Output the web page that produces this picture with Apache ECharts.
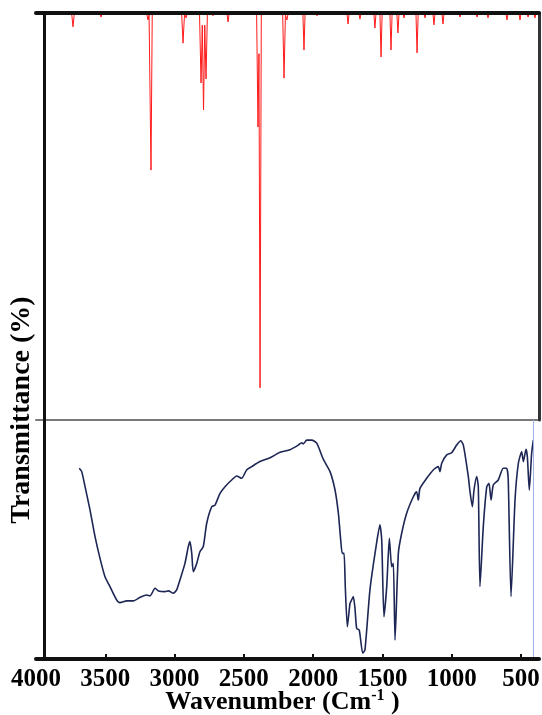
<!DOCTYPE html>
<html><head><meta charset="utf-8">
<script src="https://cdn.jsdelivr.net/npm/echarts@6/dist/echarts.min.js"></script>
<style>html,body{margin:0;padding:0;background:#fff}#c{width:542px;height:715px}</style>
</head><body><div id="c"></div>
<script>
// Tick labels along the wavenumber axis
const xTickLabels = [4000, 3500, 3000, 2500, 2000, 1500, 1000, 500];
const xTickMarks = [3500, 3000, 2500, 2000, 1500, 1000, 500];

// Calculated (theoretical) spectrum, top panel: [wavenumber, transmittance %]
const calcSpectrum = [
  [4000,100],[3743,100],[3733,96.6],[3723,100],[3669,100],[3661,99.5],[3653,100],[3539,100],[3531,99.0],[3523,100],
  [3202,100],[3192,98.3],[3184,99.5],[3170,61.4],[3161,100],[2949,100],[2939,92.6],[2928,99.8],[2917,98.8],[2908,100],
  [2820,100],[2809,82.8],[2800,97],[2791,76.2],[2782,97],[2773,83.8],[2763,100],[2731,100],[2723,99.3],[2715,100],
  [2622,100],[2614,97.8],[2606,100],[2408,100],[2398,72],[2391,90],[2383,7.9],[2374,100],[2220,100],[2210,84],
  [2200,99.5],[2189,98.3],[2180,100],[2074,100],[2066,90.9],[2058,100],[1980,100],[1972,99.3],[1964,100],[1886,100],
  [1878,99.5],[1870,100],[1756,100],[1748,97.3],[1740,100],[1670,100],[1662,98.5],[1654,100],[1562,100],[1554,96.3],
  [1546,100],[1518,100],[1510,89.2],[1502,100],[1446,100],[1438,90.9],[1430,100],[1396,100],[1388,95.1],[1380,100],
  [1352,100],[1344,98.8],[1336,100],[1258,100],[1250,90.2],[1242,100],[1201,100],[1193,98.8],[1185,100],[1136,100],
  [1128,97.1],[1120,100],[1071,100],[1063,97.3],[1055,100],[948,100],[940,99],[932,100],[825,100],[817,99],[809,100],
  [746,100],[738,98.8],[730,100],[609,100],[601,98.3],[593,100],[515,100],[507,98.3],[499,100],[457,100],[449,99],
  [441,100],[407,100],[399,98.8],[391,100],[370,100]
];

// Experimental spectrum, bottom panel: wavenumbers and transmittance %
const expWavenumber = [3688,3670,3646,3610,3574,3538,3502,3466,3437,3413,3394,3345,3298,3249,3201,3177,3141,3117,3069,3045,
  3009,2985,2961,2925,2901,2889,2876,2865,2840,2817,2793,2768,2732,2708,2672,2636,2588,2552,2516,2480,2443,2384,2311,2239,
  2167,2107,2083,2071,2046,2010,1974,1927,1878,1842,1818,1801,1790,1777,1768,1753,1734,1722,1710,1698,1686,1667,1642,1626,
  1590,1546,1518,1505,1489,1469,1450,1433,1421,1409,1385,1361,1325,1277,1253,1241,1229,1181,1133,1097,1085,1072,1036,1000,
  964,935,916,880,868,851,839,820,808,796,772,747,731,716,700,664,628,603,592,572,543,519,495,483,464,454,440,423,411];
const expTransmittance = [79.8,78.4,72.1,62.3,51.2,42.1,34.4,30.3,26.8,24.3,23.6,24.3,24.3,25.8,26.8,26.4,29.6,28.5,28.2,28.5,
  27.5,28.9,33.1,40.0,47.0,49.1,44.2,36.5,40.0,44.9,47.0,56.8,63.7,64.4,69.3,72.1,74.9,76.6,75.6,79.1,80.5,82.6,84.2,86.5,
  87.6,89.5,90.5,90.0,91.6,91.6,90.3,83.6,78.4,70.7,61.0,49.8,44.2,44.2,30.3,13.5,23.3,24.7,26.1,21.2,12.8,12.1,2.4,3.8,
  28.9,47.0,56.1,49.8,17.7,30.3,50.5,38.6,40.0,7.9,44.2,52.6,61.0,67.9,70.0,66.5,71.4,75.6,79.1,80.5,78.4,81.9,85.4,86.3,
  89.5,91.3,89.5,76.3,70.0,63.7,70.7,76.3,72.1,30.3,55.4,72.1,73.5,66.5,72.8,74.9,79.8,79.8,74.9,26.1,66.5,81.9,86.7,82.6,
  87.7,84.6,70.7,86.1,91.6];

const expSpectrum = expWavenumber.map((w, i) => [w, expTransmittance[i]]);

const chart = echarts.init(document.getElementById('c'), null, {renderer: 'canvas'});
const serif = 'Liberation Serif';
const hidden = {show: false};
const xBase = {type: 'value', inverse: true, min: 370, max: 4000, splitLine: hidden, axisTick: hidden, axisLabel: hidden};
const yBase = {type: 'value', min: 0, max: 100, splitLine: hidden, axisTick: hidden, axisLabel: hidden};

chart.setOption({
  animation: false,
  backgroundColor: '#fff',
  grid: [
    {left: 36, right: 3, top: 13, height: 407, outerBoundsMode: 'none', containLabel: false},
    {left: 36, right: 3, top: 420, height: 239, outerBoundsMode: 'none', containLabel: false}
  ],
  xAxis: [
    Object.assign({}, xBase, {gridIndex: 0, position: 'top', z: 5,
      axisLine: {show: true, onZero: false, lineStyle: {color: '#111', width: 4}}}),
    Object.assign({}, xBase, {gridIndex: 1, position: 'bottom', z: 5,
      axisLine: {show: true, onZero: false, lineStyle: {color: '#111', width: 4}},
      axisTick: {show: true, inside: true, length: 5, lineStyle: {color: '#111', width: 2}, customValues: xTickMarks},
      axisLabel: {show: true, customValues: xTickLabels, margin: 8, color: '#000',
        fontFamily: serif, fontWeight: 'bold', fontSize: 25, formatter: v => String(v)},
      name: '{n|Wavenumber (Cm}{s|-1}{n| )}', nameLocation: 'middle', nameGap: 29, nameMoveOverlap: false,
      nameTextStyle: {padding: [0, 10, 0, 0], rich: {
        n: {fontFamily: serif, fontWeight: 'bold', fontSize: 26, color: '#000'},
        s: {fontFamily: serif, fontWeight: 'bold', fontSize: 16, color: '#000', padding: [0, 0, 12, 0]}
      }}}),
    Object.assign({}, xBase, {gridIndex: 1, position: 'top', z: 4,
      axisLine: {show: true, onZero: false, lineStyle: {color: '#7a7a7a', width: 2}}})
  ],
  yAxis: [
    Object.assign({}, yBase, {gridIndex: 0, position: 'left', offset: -8, z: 5,
      axisLine: {show: true, onZero: false, lineStyle: {color: '#111', width: 3}}}),
    Object.assign({}, yBase, {gridIndex: 1, position: 'left', offset: -8, z: 5,
      axisLine: {show: true, onZero: false, lineStyle: {color: '#111', width: 3}}}),
    Object.assign({}, yBase, {gridIndex: 0, position: 'right', z: 5,
      axisLine: {show: true, onZero: false, lineStyle: {color: '#333', width: 3}}})
  ],
  series: [
    {type: 'line', xAxisIndex: 0, yAxisIndex: 0, data: calcSpectrum, showSymbol: false, symbol: 'none',
      lineStyle: {color: '#ff1a1a', width: 1}, z: 2},
    {type: 'line', xAxisIndex: 1, yAxisIndex: 1, data: expSpectrum, showSymbol: false, symbol: 'none', smooth: 0.2,
      lineStyle: {color: '#1d2654', width: 1.6}, z: 2,
      markLine: {silent: true, symbol: 'none', label: {show: false},
        lineStyle: {color: '#9fb2e6', width: 1, type: 'solid'}, data: [{xAxis: 411}]}}
  ],
  graphic: [{
    type: 'text', x: 22, y: 410, rotation: Math.PI / 2,
    style: {text: 'Transmittance (%)', fill: '#000', font: "bold 28px 'Liberation Serif', serif",
      align: 'center', verticalAlign: 'middle'}
  }]
});
</script></body></html>
